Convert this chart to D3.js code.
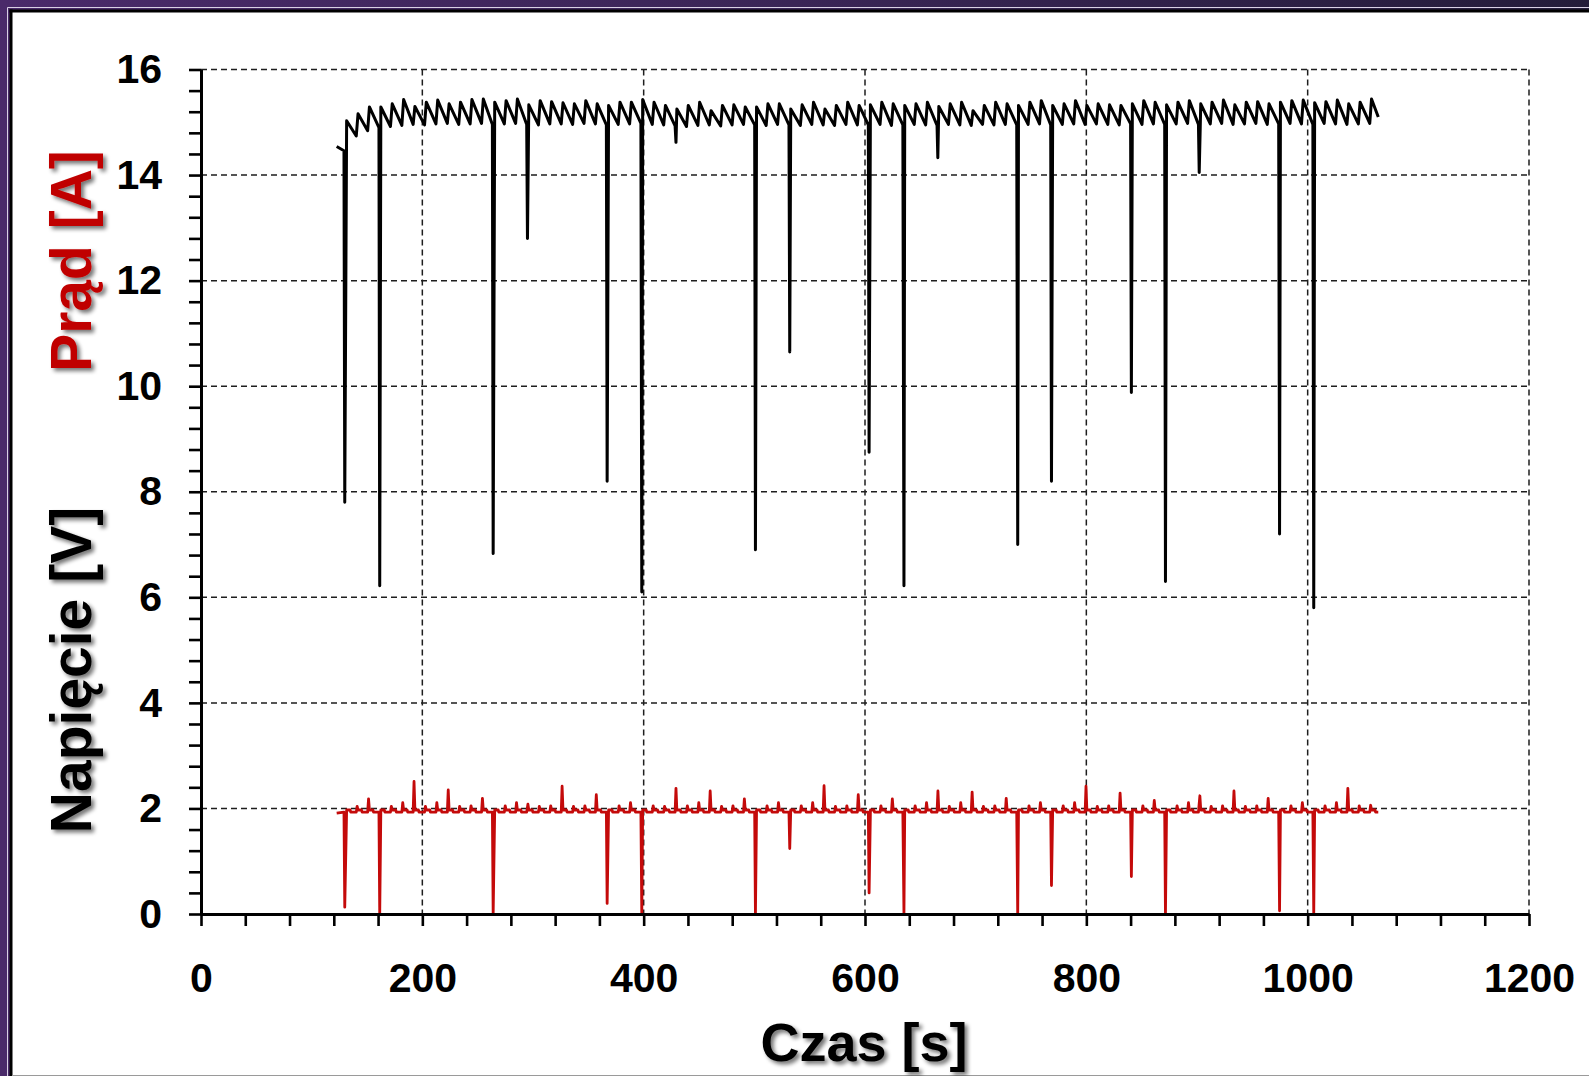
<!DOCTYPE html>
<html>
<head>
<meta charset="utf-8">
<script src="https://cdn.jsdelivr.net/npm/d3@7"></script>
<style>
  html, body { margin: 0; padding: 0; background: #fff; overflow: hidden; }
  svg { display: block; }
  text { font-family: "Liberation Sans", Arial, sans-serif; font-weight: bold; }
</style>
</head>
<body>
<svg id="chart" width="1589" height="1076"></svg>
<script>
// ---------------- DATA ----------------
const xTickLabels = [0, 200, 400, 600, 800, 1000, 1200];
const yTickLabels = [0, 2, 4, 6, 8, 10, 12, 14, 16];
const xMinorTicks = [0,40,80,120,160,200,240,280,320,360,400,440,480,520,560,600,640,680,720,760,800,840,880,920,960,1000,1040,1080,1120,1160,1200];
const yMinorTicks = [0,0.4,0.8,1.2,1.6,2,2.4,2.8,3.2,3.6,4,4.4,4.8,5.2,5.6,6,6.4,6.8,7.2,7.6,8,8.4,8.8,9.2,9.6,10,10.4,10.8,11.2,11.6,12,12.4,12.8,13.2,13.6,14,14.4,14.8,15.2,15.6,16];

const xTitle = "Czas [s]";
const yTitleVoltage = "Napięcie [V]";
const yTitleCurrent = "Prąd [A]";

// start / end of recorded traces [time, current, voltage]
const traceStart = [122.6, 14.54, 1.91];
const traceEnd = [1063.8, 15.10, 1.93];

// times of each current "tooth" (sharp rise) [s]
const toothTimes = [131.6,141.9,152.2,162.5,172.8,183.1,193.3,203.6,213.9,224.2,
  234.5,244.8,255.1,265.4,275.7,285.9,296.2,306.5,316.8,327.1,
  337.4,347.7,358.0,368.3,378.6,388.9,399.1,409.4,419.7,430.0,
  440.3,450.6,460.9,471.2,481.5,491.8,502.0,512.3,522.6,532.9,
  543.2,553.5,563.8,574.1,584.4,594.7,604.9,615.2,625.5,635.8,
  646.1,656.4,666.7,677.0,687.3,697.6,707.8,718.1,728.4,738.7,
  749.0,759.3,769.6,779.9,790.2,800.5,810.7,821.0,831.3,841.6,
  851.9,862.2,872.5,882.8,893.1,903.4,913.6,923.9,934.2,944.5,
  954.8,965.1,975.4,985.7,996.0,1006.3,1016.5,1026.8,1037.1,1047.4,1057.7];

// current peak after each rise [A]
const currentPeaks = [15.03,15.16,15.29,15.29,15.35,15.43,15.30,15.38,15.42,15.35,
  15.38,15.43,15.44,15.38,15.41,15.44,15.33,15.41,15.39,15.37,
  15.35,15.41,15.35,15.32,15.38,15.38,15.43,15.38,15.32,15.25,
  15.32,15.38,15.22,15.32,15.33,15.29,15.29,15.35,15.35,15.25,
  15.33,15.38,15.25,15.32,15.38,15.32,15.33,15.38,15.35,15.32,
  15.35,15.38,15.30,15.35,15.38,15.22,15.32,15.38,15.35,15.32,
  15.38,15.41,15.32,15.35,15.41,15.32,15.35,15.33,15.32,15.35,
  15.41,15.38,15.33,15.38,15.41,15.35,15.38,15.42,15.33,15.38,
  15.39,15.35,15.38,15.41,15.42,15.37,15.39,15.42,15.35,15.38,15.44];

// current just before each rise [A]
const currentTroughs = [14.46,14.74,14.84,14.90,14.92,14.94,14.96,14.95,14.97,14.98,
  14.96,14.97,14.98,14.96,14.97,14.98,14.96,14.95,14.97,14.97,
  14.96,14.98,14.97,14.95,14.96,14.97,14.98,14.96,14.95,14.93,
  14.92,14.94,14.95,14.93,14.95,14.96,14.95,14.94,14.96,14.95,
  14.94,14.96,14.95,14.94,14.96,14.95,14.95,14.96,14.94,14.95,
  14.96,14.95,14.94,14.96,14.95,14.94,14.96,14.95,14.96,14.95,
  14.96,14.97,14.95,14.96,14.97,14.96,14.97,14.96,14.95,14.97,
  14.96,14.97,14.96,14.97,14.98,14.96,14.97,14.98,14.96,14.97,
  14.98,14.96,14.97,14.98,14.97,14.96,14.98,14.97,14.96,14.97,14.98];

// voltage bump at each tooth [V]
const voltagePeaks = [2.05,2.04,2.18,2.05,2.04,2.11,2.51,2.04,2.11,2.35,
  2.04,2.05,2.19,2.04,2.05,2.11,2.08,2.04,2.05,2.42,
  2.04,2.05,2.26,2.04,2.05,2.11,2.04,2.05,2.04,2.38,
  2.05,2.11,2.33,2.04,2.05,2.18,2.04,2.05,2.11,2.04,
  2.05,2.11,2.43,2.04,2.05,2.26,2.04,2.05,2.18,2.04,
  2.05,2.11,2.33,2.04,2.11,2.31,2.04,2.05,2.19,2.04,
  2.05,2.11,2.04,2.05,2.11,2.42,2.04,2.05,2.29,2.04,
  2.05,2.15,2.04,2.05,2.11,2.24,2.04,2.05,2.33,2.04,
  2.05,2.19,2.04,2.05,2.11,2.04,2.05,2.11,2.38,2.05,2.06];
const voltageBase = 1.93;

// short interruptions (dips)
const spikeTimes = [129.9,161.5,264.0,295.0,367.0,398.3,429.2,501.0,532.0,603.7,
  635.2,665.8,738.0,768.5,840.7,871.5,902.0,974.6,1005.5];
const currentSpikeMin = [7.80,6.22,6.83,12.80,8.20,6.10,14.62,6.90,10.65,8.75,
  6.22,14.33,7.00,8.20,9.88,6.30,14.05,7.20,5.80];
const voltageSpikeMin = [0.13,0.0,0.0,null,0.20,0.0,null,0.0,1.24,0.40,
  0.0,null,0.0,0.54,0.71,0.0,null,0.06,0.0];

// ---------------- BUILD SERIES ----------------
const spikeOfTooth = {};
spikeTimes.forEach((s, i) => {
  let best = 0, bd = Infinity;
  toothTimes.forEach((t, k) => { const d = Math.abs(t - s); if (d < bd) { bd = d; best = k; } });
  spikeOfTooth[best] = i;
});

const currentSeries = [[traceStart[0], traceStart[1]]];
const voltageSeries = [[traceStart[0], traceStart[2]]];
toothTimes.forEach((t, k) => {
  const sp = spikeOfTooth[k];
  let tTrough = t - 1.6, tPeak = t;
  if (sp !== undefined) {
    tTrough = Math.min(tTrough, spikeTimes[sp] - 0.7);
    tPeak = Math.max(tPeak, spikeTimes[sp] + 0.7);
  }
  currentSeries.push([tTrough, currentTroughs[k]]);
  if (sp !== undefined) currentSeries.push([spikeTimes[sp], currentSpikeMin[sp]]);
  currentSeries.push([tPeak, currentPeaks[k]]);

  voltageSeries.push([tTrough, voltageBase]);
  if (sp !== undefined && voltageSpikeMin[sp] !== null) {
    voltageSeries.push([spikeTimes[sp], voltageSpikeMin[sp]]);
    voltageSeries.push([tPeak, voltageBase + 0.04]);
  } else {
    voltageSeries.push([t - 0.8, voltagePeaks[k]]);
    voltageSeries.push([tPeak, voltageBase + 0.04]);
  }
  voltageSeries.push([tPeak + 3.2, voltageBase + 0.04]);
  voltageSeries.push([tPeak + 3.7, voltageBase]);
});
currentSeries.push([traceEnd[0], traceEnd[1]]);
voltageSeries.push([traceEnd[0], traceEnd[2]]);

// ---------------- DRAW ----------------
const W = 1589, H = 1076;
const svg = d3.select("#chart");
const defs = svg.append("defs");

const grad = defs.append("linearGradient").attr("id", "frameGrad")
  .attr("x1", "0").attr("y1", "0").attr("x2", "1").attr("y2", "0");
grad.append("stop").attr("offset", "0").attr("stop-color", "#4a2a6a");
grad.append("stop").attr("offset", "0.5").attr("stop-color", "#3a2556");
grad.append("stop").attr("offset", "1").attr("stop-color", "#241c3a");

const shadow = defs.append("filter").attr("id", "shadow")
  .attr("x", "-10%").attr("y", "-10%").attr("width", "130%").attr("height", "130%");
shadow.append("feGaussianBlur").attr("in", "SourceAlpha").attr("stdDeviation", 2).attr("result", "b");
shadow.append("feOffset").attr("in", "b").attr("dx", 3).attr("dy", 3).attr("result", "o");
shadow.append("feComponentTransfer").attr("in", "o").attr("result", "o2")
  .append("feFuncA").attr("type", "linear").attr("slope", 0.55);
const merge = shadow.append("feMerge");
merge.append("feMergeNode").attr("in", "o2");
merge.append("feMergeNode").attr("in", "SourceGraphic");

// frame
svg.append("rect").attr("x", 0).attr("y", 0).attr("width", W).attr("height", H).attr("fill", "url(#frameGrad)");
svg.append("line").attr("x1", 7.5).attr("y1", 7.5).attr("x2", W).attr("y2", 7.5)
  .attr("stroke", "#d8d0e4").attr("stroke-width", 1);
svg.append("line").attr("x1", 7.5).attr("y1", 7.5).attr("x2", 7.5).attr("y2", H)
  .attr("stroke", "#d8d0e4").attr("stroke-width", 1);
svg.append("rect").attr("x", 10).attr("y", 10).attr("width", W - 10).attr("height", H - 10).attr("fill", "#fff");
svg.append("line").attr("x1", 9.5).attr("y1", 11).attr("x2", W).attr("y2", 11)
  .attr("stroke", "#000").attr("stroke-width", 3);
svg.append("line").attr("x1", 11).attr("y1", 9.5).attr("x2", 11).attr("y2", H)
  .attr("stroke", "#000").attr("stroke-width", 3);
svg.append("line").attr("x1", 12).attr("y1", 1075.5).attr("x2", W).attr("y2", 1075.5)
  .attr("stroke", "#9a9a9a").attr("stroke-width", 1);

// scales
const x = d3.scaleLinear().domain([0, 1200]).range([201, 1529]);
const y = d3.scaleLinear().domain([0, 16]).range([914, 69.5]);

// grid
const grid = svg.append("g").attr("class", "grid");
grid.selectAll("line.v").data(xTickLabels.filter(d => d > 0)).join("line")
  .attr("x1", d => x(d)).attr("x2", d => x(d)).attr("y1", y(16)).attr("y2", y(0))
  .attr("stroke", "#1e1e1e").attr("stroke-width", 1.5).attr("stroke-dasharray", "6,4");
grid.selectAll("line.h").data(yTickLabels.filter(d => d > 0)).join("line")
  .attr("x1", x(0)).attr("x2", x(1200)).attr("y1", d => y(d)).attr("y2", d => y(d))
  .attr("stroke", "#1e1e1e").attr("stroke-width", 1.5).attr("stroke-dasharray", "6,4");

// series
const line = d3.line().x(d => x(d[0])).y(d => y(d[1]));
svg.append("path").datum(voltageSeries).attr("d", line)
  .attr("fill", "none").attr("stroke", "#c40a0a").attr("stroke-width", 2.8)
  .attr("stroke-linejoin", "round");
svg.append("path").datum(currentSeries).attr("d", line)
  .attr("fill", "none").attr("stroke", "#000").attr("stroke-width", 3)
  .attr("stroke-linejoin", "round");

// axes
const isMajorX = d => xTickLabels.includes(d);
const isMajorY = d => yTickLabels.some(v => Math.abs(v - d) < 1e-6);
const xAxis = d3.axisBottom(x).tickValues(xMinorTicks).tickSize(12).tickSizeOuter(0).tickPadding(37)
  .tickFormat(d => isMajorX(d) ? d : "");
const yAxis = d3.axisLeft(y).tickValues(yMinorTicks).tickSize(12).tickSizeOuter(0).tickPadding(27)
  .tickFormat(d => isMajorY(d) ? Math.round(d) : "");

const gx = svg.append("g").attr("transform", `translate(0,${y(0)})`).call(xAxis);
const gy = svg.append("g").attr("transform", `translate(${x(0)},0)`).call(yAxis);
[gx, gy].forEach(g => {
  g.select(".domain").attr("stroke", "#000").attr("stroke-width", 3);
  g.selectAll(".tick line").attr("stroke", "#000").attr("stroke-width", 2.6);
  g.selectAll(".tick text").attr("fill", "#000")
    .style("font-family", '"Liberation Sans", Arial, sans-serif')
    .style("font-weight", "bold").style("font-size", "41px");
});

// titles
svg.append("g").attr("filter", "url(#shadow)")
  .append("text").attr("x", 864).attr("y", 1061).attr("text-anchor", "middle")
  .style("font-size", "54px").attr("fill", "#000").text(xTitle);

svg.append("g").attr("filter", "url(#shadow)")
  .append("text").attr("transform", "translate(91,670) rotate(-90)").attr("text-anchor", "middle")
  .style("font-size", "57px").attr("fill", "#000").text(yTitleVoltage);

svg.append("g").attr("filter", "url(#shadow)")
  .append("text").attr("transform", "translate(91,261) rotate(-90)").attr("text-anchor", "middle")
  .style("font-size", "57px").attr("fill", "#c00000").text(yTitleCurrent);
</script>
</body>
</html>
